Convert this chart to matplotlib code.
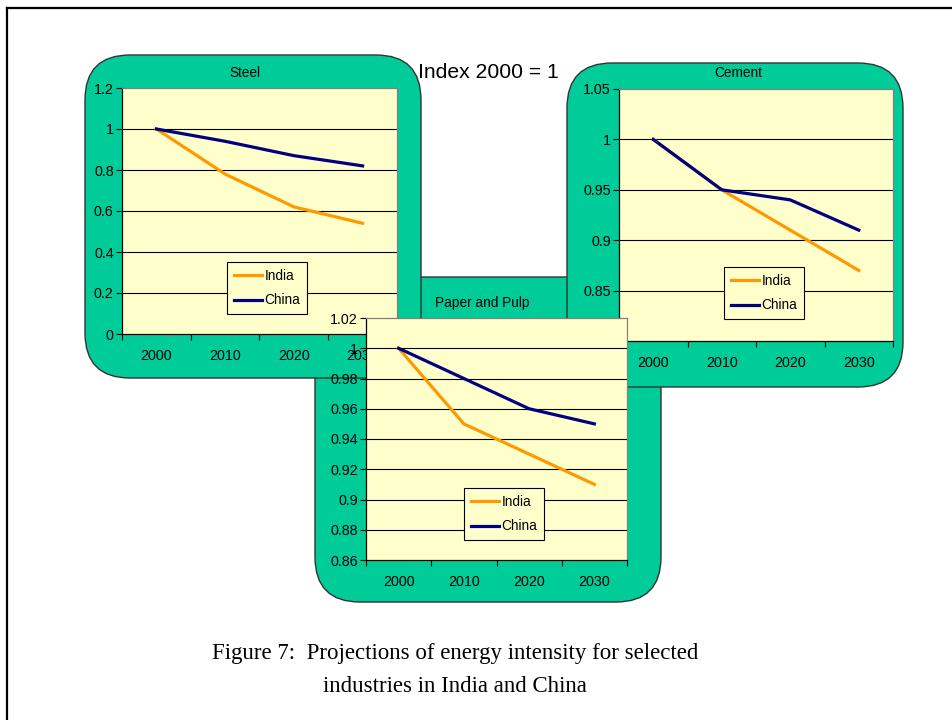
import matplotlib
matplotlib.use("Agg")
import matplotlib.pyplot as plt
from matplotlib.patches import FancyBboxPatch
from matplotlib.ticker import FuncFormatter

plt.rcParams['font.family'] = ['Liberation Sans', 'DejaVu Sans']

# data
years = ['2000', '2010', '2020', '2030']
steel_india = [1.0, 0.78, 0.62, 0.54]
steel_china = [1.0, 0.94, 0.87, 0.82]
cement_india = [1.0, 0.95, 0.91, 0.87]
cement_china = [1.0, 0.95, 0.94, 0.91]
paper_india = [1.0, 0.95, 0.93, 0.91]
paper_china = [1.0, 0.98, 0.96, 0.95]

W, H = 952, 720
GREEN = '#00CC99'
YELLOW = '#FFFFCC'
ORANGE = '#FF9900'
NAVY = '#000080'

fig = plt.figure(figsize=(W / 100, H / 100), dpi=100)

# background layer in pixel coordinates
bg = fig.add_axes([0, 0, 1, 1], zorder=0)
bg.set_xlim(0, W)
bg.set_ylim(H, 0)
bg.axis('off')


def panel(l, t, r, b):
    p = FancyBboxPatch((l, t), r - l, b - t,
                       boxstyle="round,pad=0,rounding_size=45",
                       facecolor=GREEN, edgecolor='#333333', lw=1.0)
    bg.add_patch(p)


def px_axes(l, t, r, b, z):
    return fig.add_axes([l / W, 1 - b / H, (r - l) / W, (b - t) / H], zorder=z)


def draw_chart(ax, india, china, ymin, ymax, step, legend_center):
    x = list(range(len(years)))
    ax.set_facecolor(YELLOW)
    ax.set_xlim(-0.5, len(years) - 0.5)
    ax.set_ylim(ymin, ymax)
    ticks = []
    v = ymin
    while v <= ymax + 1e-9:
        ticks.append(round(v, 4))
        v += step
    ax.set_yticks(ticks)
    ax.yaxis.set_major_formatter(FuncFormatter(lambda val, pos: '%g' % val))
    for t in ticks[1:-1]:
        ax.axhline(t, color='black', lw=0.8, zorder=1)
    ax.set_xticks([i - 0.5 for i in range(len(years) + 1)])
    ax.set_xticklabels([])
    ax.set_xticks(x, minor=True)
    ax.set_xticklabels(years, minor=True)
    ax.tick_params(axis='x', which='major', length=4, width=0.8, direction='out')
    ax.tick_params(axis='x', which='minor', length=0, pad=11, labelsize=10.3)
    ax.tick_params(axis='y', length=4, width=0.8, pad=2, labelsize=10.3)
    for s in ['left', 'bottom']:
        ax.spines[s].set_color('black')
        ax.spines[s].set_linewidth(0.9)
    for s in ['top', 'right']:
        ax.spines[s].set_color('#808080')
        ax.spines[s].set_linewidth(0.9)
    ax.plot(x, india, color=ORANGE, lw=2.3, label='India', zorder=3)
    ax.plot(x, china, color=NAVY, lw=2.3, label='China', zorder=3)
    leg = ax.legend(loc='center',
                    bbox_to_anchor=(legend_center[0] / W, 1 - legend_center[1] / H),
                    bbox_transform=fig.transFigure, fontsize=9.8,
                    fancybox=False, framealpha=1, edgecolor='black',
                    facecolor=YELLOW, handlelength=2.1, handletextpad=0.15,
                    borderpad=0.5, labelspacing=0.8, borderaxespad=0)
    leg.get_frame().set_linewidth(0.8)
    leg.set_zorder(5)


# panels: paper first so steel and cement lie on top of it
panel(315, 277, 661, 602)
panel(85, 55, 421, 378)
panel(567, 63, 903, 387)

bg.text(245, 73, 'Steel', ha='center', va='center', fontsize=9.8)
bg.text(738, 73, 'Cement', ha='center', va='center', fontsize=9.8)
bg.text(435, 303, 'Paper and Pulp', ha='left', va='center', fontsize=9.8)
bg.text(418, 72, 'Index 2000 = 1', ha='left', va='center', fontsize=15.2)

bg.text(455, 654, 'Figure 7:  Projections of energy intensity for selected',
        ha='center', va='center', fontsize=16.5, family='Liberation Serif')
bg.text(455, 686, 'industries in India and China',
        ha='center', va='center', fontsize=16.5, family='Liberation Serif')

# page frame (top and left edges)
bg.plot([7, W], [8, 8], color='black', lw=1.6)
bg.plot([7, 7], [8, H], color='black', lw=1.6)

ax_steel = px_axes(122, 88, 397, 334, 1)
draw_chart(ax_steel, steel_india, steel_china, 0, 1.2, 0.2, (267, 288))

ax_cement = px_axes(619, 89, 893, 341, 2)
draw_chart(ax_cement, cement_india, cement_china, 0.8, 1.05, 0.05, (764, 293))

ax_paper = px_axes(366, 318, 627, 560, 3)
draw_chart(ax_paper, paper_india, paper_china, 0.86, 1.02, 0.02, (504, 514))

fig.savefig('out.png', dpi=100)
